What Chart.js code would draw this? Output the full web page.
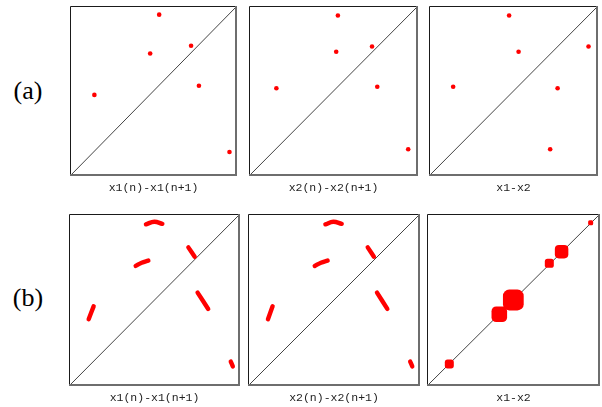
<!DOCTYPE html>
<html>
<head>
<meta charset="utf-8">
<script src="https://cdn.jsdelivr.net/npm/chart.js"></script>
<style>
  body { margin: 0; background: #fff; }
  #wrap { position: relative; width: 602px; height: 407px; overflow: hidden; background: #fff; }
  canvas { position: absolute; }
  .row { position: absolute; width: 54px; text-align: center; font-family: "Liberation Serif", serif; font-size: 26px; line-height: 30px; color: #000; }
</style>
</head>
<body>
<div id="wrap"></div>
<script>
const rowLabels = ['(a)', '(b)'];
const axisTitles = ['x1(n)-x1(n+1)', 'x2(n)-x2(n+1)', 'x1-x2'];
const diagonal = [0, 1];

// row (a): isolated points
const a1X = [0.534, 0.725, 0.480, 0.146, 0.772, 0.955];
const a1Y = [0.949, 0.766, 0.721, 0.477, 0.531, 0.141];
const a2X = [0.526, 0.728, 0.516, 0.162, 0.759, 0.942];
const a2Y = [0.944, 0.762, 0.731, 0.516, 0.525, 0.157];
const a3X = [0.474, 0.944, 0.530, 0.143, 0.761, 0.717];
const a3Y = [0.944, 0.762, 0.731, 0.525, 0.516, 0.157];

// row (b): short arcs, one inner list per arc
const b1X = [[0.450, 0.499, 0.546], [0.390, 0.425, 0.464], [0.698, 0.735], [0.752, 0.814], [0.144, 0.115], [0.946, 0.958]];
const b1Y = [[0.940, 0.955, 0.943], [0.698, 0.717, 0.729], [0.806, 0.752], [0.543, 0.448], [0.463, 0.388], [0.142, 0.114]];
const b2X = [[0.450, 0.496, 0.545], [0.388, 0.424, 0.463], [0.696, 0.732], [0.750, 0.810], [0.143, 0.116], [0.943, 0.955]];
const b2Y = [[0.940, 0.955, 0.943], [0.698, 0.717, 0.729], [0.806, 0.752], [0.543, 0.448], [0.463, 0.388], [0.142, 0.114]];

// x1-x2 in row (b): clusters along the diagonal (centre and half width)
const b3X = [0.129, 0.418, 0.499, 0.707, 0.778, 0.946];
const b3Y = [0.128, 0.417, 0.500, 0.713, 0.781, 0.949];
const b3Spread = [0.026, 0.045, 0.060, 0.026, 0.039, 0.0145];

const red = '#ff0000';

const frame = {
  id: 'frame',
  afterDraw(chart) {
    const { ctx, chartArea: a } = chart;
    ctx.save();
    ctx.strokeStyle = '#1a1a1a';
    ctx.lineWidth = 1;
    ctx.beginPath();
    ctx.moveTo(a.left + 0.5, a.bottom);
    ctx.lineTo(a.left + 0.5, a.top + 0.5);
    ctx.lineTo(a.right, a.top + 0.5);
    ctx.stroke();
    ctx.strokeStyle = '#6e6e6e';
    ctx.lineWidth = 2;
    ctx.beginPath();
    ctx.moveTo(a.right - 1, a.top);
    ctx.lineTo(a.right - 1, a.bottom - 1);
    ctx.lineTo(a.left, a.bottom - 1);
    ctx.stroke();
    ctx.restore();
  }
};

const pts = (xs, ys) => xs.map((x, i) => ({ x: x, y: ys[i] }));

const diagSet = () => ({
  data: pts(diagonal, diagonal), showLine: true, borderColor: '#444', borderWidth: 1, pointRadius: 0
});
const dotSet = (xs, ys) => ({
  data: pts(xs, ys), showLine: false, pointRadius: 2.3, pointBackgroundColor: red, pointBorderWidth: 0
});
const arcSets = (xs, ys) => xs.map((ax, k) => ({
  data: pts(ax, ys[k]), showLine: true, borderColor: red, borderWidth: 4.4,
  borderCapStyle: 'round', tension: 0.4, pointRadius: 0
}));
// rectRounded reaches about 0.858 of its radius from the centre
const blobSet = (xs, ys, spread) => ({
  data: pts(xs, ys), showLine: false, pointStyle: 'rectRounded',
  pointBackgroundColor: red, pointBorderWidth: 0,
  pointRadius: c => {
    const s = c.chart.scales.x;
    return (s.getPixelForValue(spread[c.dataIndex]) - s.getPixelForValue(0)) / 0.858;
  }
});

const panels = [
  { box: [68, 4, 171, 172], title: axisTitles[0], sets: [dotSet(a1X, a1Y)] },
  { box: [247, 4, 173, 172], title: axisTitles[1], sets: [dotSet(a2X, a2Y)] },
  { box: [427, 4, 173, 172], title: axisTitles[2], sets: [dotSet(a3X, a3Y)] },
  { box: [69, 214, 171, 172], title: axisTitles[0], sets: arcSets(b1X, b1Y) },
  { box: [248, 214, 172, 172], title: axisTitles[1], sets: arcSets(b2X, b2Y) },
  { box: [427, 214, 173, 172], title: axisTitles[2], sets: [blobSet(b3X, b3Y, b3Spread)] }
];

const wrap = document.getElementById('wrap');

rowLabels.forEach((t, i) => {
  const d = document.createElement('div');
  d.className = 'row';
  d.textContent = t;
  d.style.left = '1px';
  d.style.top = (i === 0 ? 76 : 283) + 'px';
  wrap.appendChild(d);
});

panels.forEach(p => {
  const [l, t, w, h] = p.box;
  const cv = document.createElement('canvas');
  cv.width = w + 4;
  cv.height = h + 26;
  cv.style.left = (l - 2) + 'px';
  cv.style.top = (t - 2) + 'px';
  wrap.appendChild(cv);

  new Chart(cv, {
    type: 'scatter',
    data: { datasets: p.sets.concat([diagSet()]) },
    options: {
      responsive: false,
      animation: false,
      events: [],
      layout: { padding: { left: 2, top: 2, right: 2, bottom: 26 - 2 - 19.3 } },
      plugins: { legend: { display: false }, tooltip: { enabled: false } },
      scales: {
        x: {
          min: 0, max: 1,
          ticks: { display: false },
          grid: { display: false, drawTicks: false },
          border: { display: false },
          title: {
            display: true, text: p.title, color: '#222',
            font: { family: 'Liberation Mono', size: 11.5, lineHeight: 1.2 },
            padding: { top: 5.5, bottom: 0 }
          }
        },
        y: { min: 0, max: 1, display: false }
      }
    },
    plugins: [frame]
  });
});
</script>
</body>
</html>
